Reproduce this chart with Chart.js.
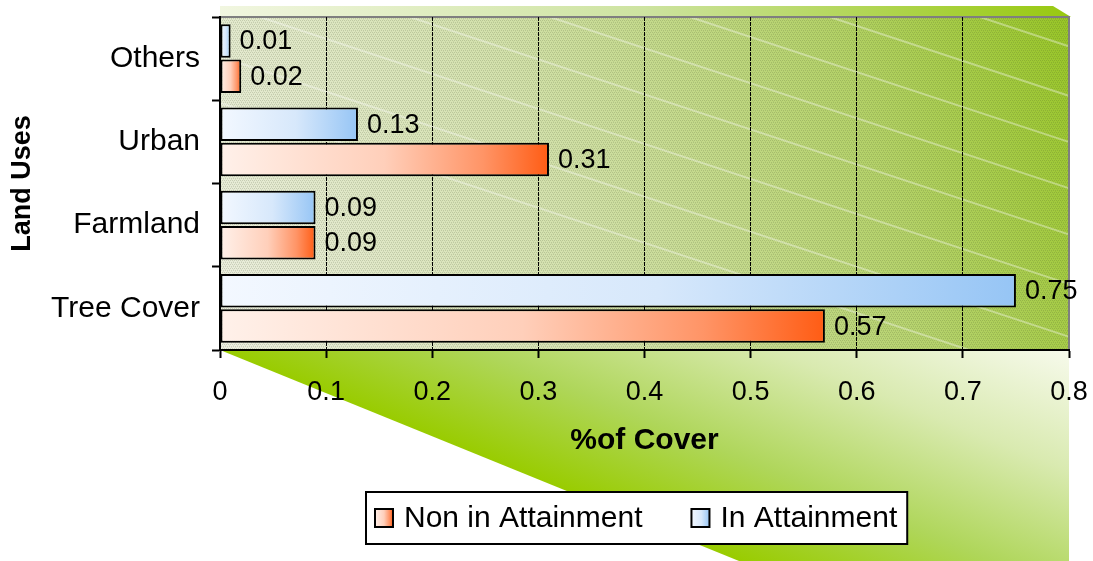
<!DOCTYPE html>
<html>
<head>
<meta charset="utf-8">
<title>Land Uses - % of Cover</title>
<script src="https://cdn.jsdelivr.net/npm/chart.js@4.4.0/dist/chart.umd.min.js"></script>
<style>
  html, body { margin: 0; padding: 0; background: #fff; }
  #wrap { width: 1093px; height: 561px; position: relative; }
</style>
</head>
<body>
<div id="wrap"><canvas id="chart"></canvas></div>
<script>
// ---- data ----
const landUses = ['Others', 'Urban', 'Farmland', 'Tree Cover'];
const inAttainment = [0.01, 0.13, 0.09, 0.75];
const nonInAttainment = [0.02, 0.31, 0.09, 0.57];
const coverTicks = [0, 0.1, 0.2, 0.3, 0.4, 0.5, 0.6, 0.7, 0.8];
const seriesNames = ['In Attainment', 'Non in Attainment'];

const FONT = '"Liberation Sans", Arial, Helvetica, sans-serif';
Chart.defaults.font.family = FONT;
Chart.defaults.color = '#000';

// horizontal gradient ramps for the bars (pale at the base, saturated at the tip)
const BLUE_STOPS = [[0, '#f3f8ff'], [0.55, '#d7e8fb'], [1, '#96c5f5']];
const RED_STOPS = [[0, '#fff1ea'], [0.5, '#ffcfba'], [0.8, '#ff9466'], [1, '#ff5c14']];

function barFill(stops) {
  return (c) => {
    const chart = c.chart;
    const xs = chart.scales && chart.scales.x;
    const solid = stops[stops.length - 1][1];
    if (c.type !== 'data' || !xs || !chart.chartArea) return solid;
    const x0 = xs.getPixelForValue(0);
    const x1 = xs.getPixelForValue(c.raw);
    if (!isFinite(x0) || !isFinite(x1) || x1 - x0 < 1) return solid;
    const g = chart.ctx.createLinearGradient(x0, 0, x1, 0);
    stops.forEach(([o, col]) => g.addColorStop(o, col));
    return g;
  };
}

// background: floor wedge, top band and hatched green wall behind the bars
const backdrop = {
  id: 'backdrop',
  beforeDraw(chart) {
    const { ctx, chartArea: a, width, height } = chart;
    ctx.save();
    ctx.fillStyle = '#fff';
    ctx.fillRect(0, 0, width, height);

    // floor wedge under the x axis
    const slope = 2.46;
    ctx.beginPath();
    ctx.moveTo(a.left, a.bottom);
    ctx.lineTo(a.right, a.bottom);
    ctx.lineTo(a.right, height);
    ctx.lineTo(a.left + (height - a.bottom) * slope, height);
    ctx.closePath();
    const len = Math.hypot(slope, 1);
    const dx = slope / len, dy = 1 / len;
    const proj = (a.right - a.left) * dx;
    const fx = a.left + dx * proj, fy = a.bottom + dy * proj;
    const fg = ctx.createLinearGradient(fx, fy, a.right, a.bottom);
    fg.addColorStop(0, '#99cc00');
    fg.addColorStop(0.3, '#afd65a');
    fg.addColorStop(0.65, '#d9eab0');
    fg.addColorStop(1, '#f7faec');
    ctx.fillStyle = fg;
    ctx.fill();

    // top band above the wall
    ctx.beginPath();
    ctx.moveTo(a.left, a.top - 11);
    ctx.lineTo(a.right - 16, a.top - 11);
    ctx.lineTo(a.right + 2, a.top);
    ctx.lineTo(a.left, a.top);
    ctx.closePath();
    const tg = ctx.createLinearGradient(a.left, 0, a.right, 0);
    tg.addColorStop(0, '#f1f6e0');
    tg.addColorStop(0.5, '#cde3a0');
    tg.addColorStop(1, '#98c910');
    ctx.fillStyle = tg;
    ctx.fill();

    // wall
    const wg = ctx.createLinearGradient(a.left, a.bottom, a.right, a.top);
    wg.addColorStop(0, '#eceee0');
    wg.addColorStop(0.4, '#d3e1ac');
    wg.addColorStop(0.75, '#b4d268');
    wg.addColorStop(1, '#98c626');
    ctx.fillStyle = wg;
    ctx.fillRect(a.left, a.top, a.right - a.left, a.bottom - a.top);

    // fine hatch texture
    const tile = document.createElement('canvas');
    tile.width = 4; tile.height = 4;
    const tc = tile.getContext('2d');
    tc.fillStyle = 'rgba(60,70,40,0.18)';
    tc.fillRect(0, 0, 1, 1); tc.fillRect(2, 0, 1, 1);
    tc.fillRect(1, 2, 1, 1); tc.fillRect(3, 2, 1, 1);
    tc.fillStyle = 'rgba(60,70,40,0.09)';
    tc.fillRect(1, 1, 1, 1); tc.fillRect(3, 3, 1, 1);
    ctx.fillStyle = ctx.createPattern(tile, 'repeat');
    ctx.fillRect(a.left, a.top, a.right - a.left, a.bottom - a.top);

    // soft light streaks
    ctx.save();
    ctx.beginPath();
    ctx.rect(a.left, a.top, a.right - a.left, a.bottom - a.top);
    ctx.clip();
    ctx.strokeStyle = 'rgba(255,255,255,0.35)';
    ctx.lineWidth = 2;
    const streakSlope = 0.33;
    [-260, -120, 40, 190, 330, 470, 610, 760, 900].forEach((off) => {
      const x0 = a.left + off;
      ctx.beginPath();
      ctx.moveTo(x0, a.top);
      ctx.lineTo(x0 + 1200, a.top + 1200 * streakSlope);
      ctx.stroke();
    });
    ctx.restore();

    // grey frame on the top and right of the wall
    ctx.strokeStyle = '#7f7f7f';
    ctx.lineWidth = 2;
    ctx.beginPath();
    ctx.moveTo(a.left, a.top);
    ctx.lineTo(a.right, a.top);
    ctx.lineTo(a.right, a.bottom);
    ctx.stroke();
    ctx.restore();
  }
};

// value printed right after each bar
const valueLabels = {
  id: 'valueLabels',
  afterDatasetsDraw(chart) {
    const { ctx } = chart;
    ctx.save();
    ctx.font = '27px ' + FONT;
    ctx.fillStyle = '#000';
    ctx.textAlign = 'left';
    ctx.textBaseline = 'middle';
    chart.data.datasets.forEach((ds, i) => {
      chart.getDatasetMeta(i).data.forEach((bar, j) => {
        ctx.fillText(ds.data[j].toFixed(2), bar.x + 9, bar.y + 1);
      });
    });
    ctx.restore();
  }
};

// boxed legend below the axis title
const boxedLegend = {
  id: 'boxedLegend',
  afterDraw(chart) {
    const { ctx } = chart;
    const order = [1, 0];
    const left = 366, top = 492, h = 52;
    const sw = 18, gapText = 11, gapItem = 49;
    ctx.save();
    ctx.font = '30px ' + FONT;
    let x = left + 9;
    const items = order.map((i) => {
      const ds = chart.data.datasets[i];
      const w = ctx.measureText(ds.label).width;
      const it = { ds, x, w };
      x += sw + gapText + w + gapItem;
      return it;
    });
    const right = x - gapItem + 10;
    ctx.fillStyle = '#fff';
    ctx.fillRect(left, top, right - left, h);
    ctx.strokeStyle = '#000';
    ctx.lineWidth = 2;
    ctx.strokeRect(left, top, right - left, h);
    const cy = top + h / 2;
    items.forEach(({ ds, x }) => {
      const g = ctx.createLinearGradient(x, 0, x + sw, 0);
      ds.swatch.forEach(([o, col]) => g.addColorStop(o, col));
      ctx.fillStyle = g;
      ctx.fillRect(x, cy - sw / 2, sw, sw);
      ctx.strokeRect(x, cy - sw / 2, sw, sw);
      ctx.fillStyle = '#000';
      ctx.textAlign = 'left';
      ctx.textBaseline = 'middle';
      ctx.fillText(ds.label, x + sw + gapText, cy + 1);
    });
    ctx.restore();
  }
};

new Chart(document.getElementById('chart'), {
  type: 'bar',
  data: {
    labels: landUses,
    datasets: [
      {
        label: seriesNames[0],
        data: inAttainment,
        backgroundColor: barFill(BLUE_STOPS),
        swatch: BLUE_STOPS,
        borderColor: '#000',
        borderWidth: 2,
        borderSkipped: false,
        categoryPercentage: 0.85,
        barPercentage: 0.95
      },
      {
        label: seriesNames[1],
        data: nonInAttainment,
        backgroundColor: barFill(RED_STOPS),
        swatch: RED_STOPS,
        borderColor: '#000',
        borderWidth: 2,
        borderSkipped: false,
        categoryPercentage: 0.85,
        barPercentage: 0.95
      }
    ]
  },
  options: {
    indexAxis: 'y',
    responsive: true,
    maintainAspectRatio: false,
    animation: false,
    devicePixelRatio: 1,
    layout: { padding: { top: 17, right: 24, bottom: 0, left: 0 } },
    plugins: {
      legend: { display: false },
      tooltip: { enabled: false },
      title: { display: false }
    },
    scales: {
      x: {
        type: 'linear',
        min: coverTicks[0],
        max: coverTicks[coverTicks.length - 1],
        afterFit(s) {
          s.height = 211;
          s.paddingLeft = 0; s.paddingRight = 0;
        },
        afterBuildTicks(s) { s.ticks = coverTicks.map((v) => ({ value: v })); },
        ticks: {
          font: { size: 27 },
          color: '#000',
          padding: 18,
          maxRotation: 0,
          callback: (v) => String(Math.round(v * 10) / 10)
        },
        grid: {
          color: (c) => (c.index === 0 || c.index === coverTicks.length - 1) ? 'rgba(0,0,0,0)' : '#000',
          lineWidth: 1,
          tickColor: '#000',
          tickWidth: 2,
          tickLength: 8
        },
        border: { color: '#000', width: 2, dash: [4, 1] },
        title: {
          display: true,
          text: '%of Cover',
          font: { size: 30, weight: 'bold' },
          color: '#000',
          padding: { top: 0, bottom: 102 }
        }
      },
      y: {
        type: 'category',
        afterFit(s) {
          s.width = 220;
          s.paddingTop = 0; s.paddingBottom = 0;
        },
        ticks: { font: { size: 30 }, color: '#000', padding: 12 },
        grid: {
          offset: true,
          drawOnChartArea: false,
          color: '#000',
          tickColor: '#000',
          tickWidth: 2,
          tickLength: 8
        },
        border: { color: '#000', width: 2 },
        title: {
          display: true,
          text: 'Land Uses',
          font: { size: 27, weight: 'bold' },
          color: '#000',
          padding: { top: 6, bottom: 0 }
        }
      }
    }
  },
  plugins: [backdrop, valueLabels, boxedLegend]
});
</script>
</body>
</html>
